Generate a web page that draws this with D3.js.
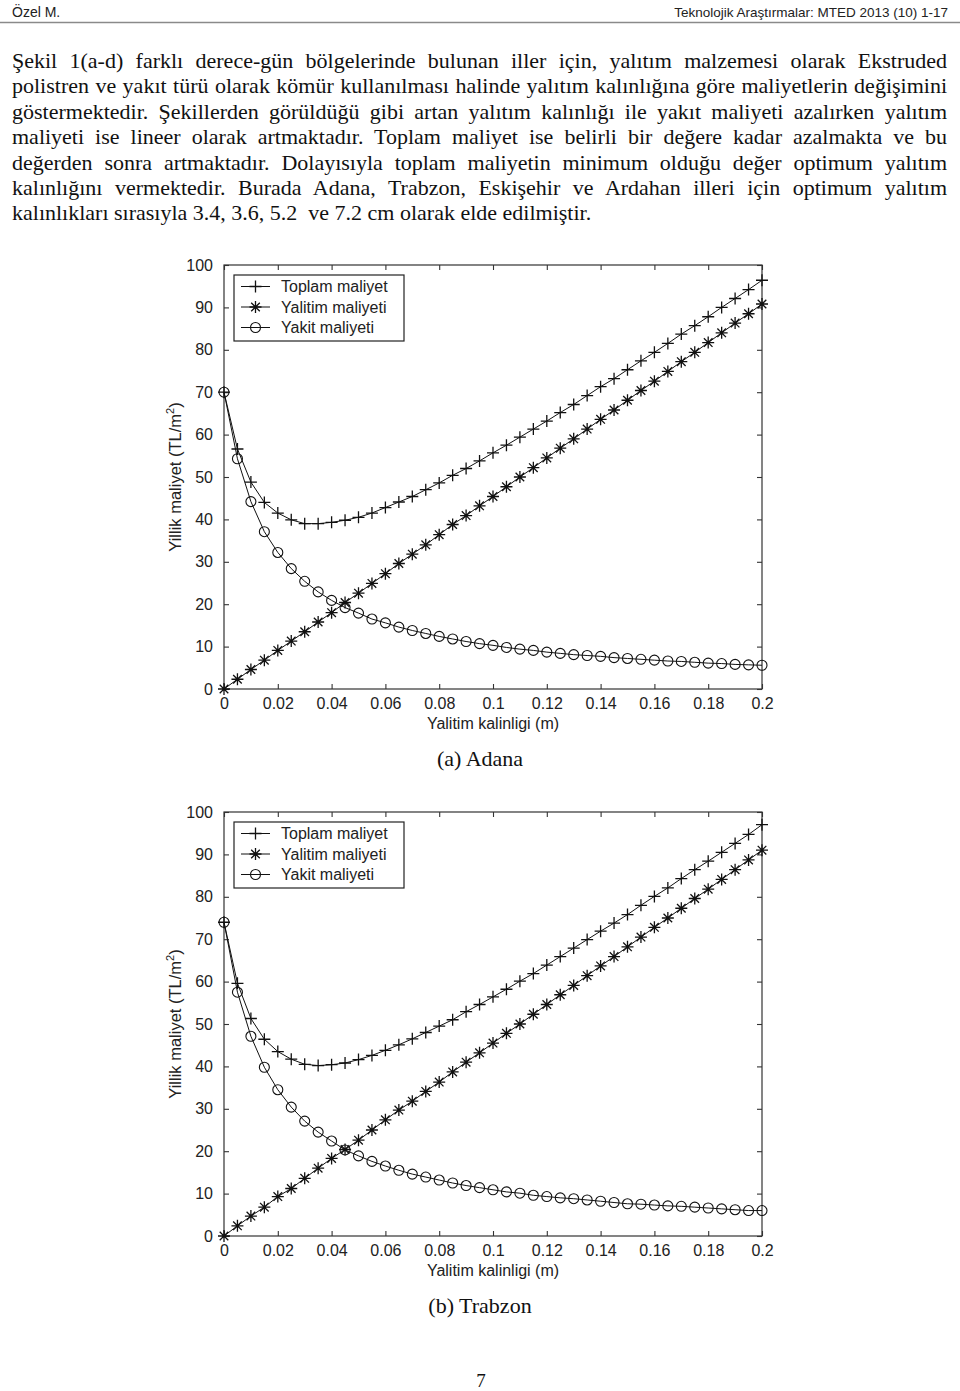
<!DOCTYPE html>
<html><head><meta charset="utf-8">
<script src="https://cdn.jsdelivr.net/npm/d3@7/dist/d3.min.js"></script>
<style>
body{margin:0;background:#fff}
svg{display:block}
</style>
</head><body>
<svg id="page" width="960" height="1391"></svg>
<script>
// ---------------- DATA ----------------
const thickness = [0,0.005,0.01,0.015,0.02,0.025,0.03,0.035,0.04,0.045,0.05,0.055,0.06,0.065,0.07,0.075,0.08,0.085,0.09,0.095,0.1,
  0.105,0.11,0.115,0.12,0.125,0.13,0.135,0.14,0.145,0.15,0.155,0.16,0.165,0.17,0.175,0.18,0.185,0.19,0.195,0.2];

const adanaToplam = [70.0,56.6,48.8,44.0,41.5,39.9,39.0,39.0,39.3,39.8,40.5,41.5,42.8,44.1,45.4,47.0,48.6,50.4,52.0,53.8,55.7,
  57.5,59.4,61.3,63.2,65.2,67.1,69.2,71.3,73.2,75.3,77.4,79.4,81.5,83.7,85.7,87.8,90.0,92.1,94.2,96.4];
const adanaYalitim = [0,2.3,4.6,6.8,9.1,11.3,13.5,15.8,18.0,20.4,22.6,24.9,27.2,29.6,31.8,34.0,36.4,38.8,40.9,43.2,45.4,
  47.7,50.0,52.2,54.5,56.8,59.0,61.3,63.6,65.8,68.1,70.4,72.6,74.9,77.2,79.4,81.7,84.0,86.3,88.5,90.8];
const adanaYakit = [70.0,54.3,44.2,37.1,32.2,28.4,25.4,22.9,20.9,19.2,17.9,16.5,15.6,14.6,13.8,13.1,12.4,11.8,11.2,10.7,10.3,
  9.8,9.4,9.1,8.7,8.4,8.1,7.9,7.7,7.4,7.2,7.0,6.8,6.6,6.5,6.3,6.1,6.0,5.8,5.7,5.6];

const trabzonToplam = [74.0,59.6,51.3,46.4,43.5,41.7,40.5,40.2,40.4,40.8,41.6,42.6,43.8,45.1,46.5,48.0,49.5,51.0,52.9,54.6,56.4,
  58.2,60.1,61.9,63.9,65.9,67.9,69.9,71.9,73.8,75.8,78.0,80.1,82.1,84.3,86.4,88.4,90.5,92.6,94.7,97.0];
const trabzonYalitim = [0,2.4,4.7,6.8,9.3,11.2,13.6,16.0,18.3,20.4,22.6,25.0,27.4,29.7,31.8,34.1,36.3,38.7,41.0,43.2,45.5,
  47.8,50.0,52.3,54.6,56.9,59.1,61.4,63.7,65.9,68.2,70.5,72.8,75.0,77.3,79.6,81.8,84.1,86.4,88.7,91.0];
const trabzonYakit = [74.0,57.5,47.1,39.8,34.5,30.4,27.1,24.5,22.4,20.3,18.9,17.6,16.5,15.5,14.6,13.9,13.2,12.5,11.9,11.4,10.9,
  10.4,10.1,9.6,9.3,9.0,8.8,8.5,8.2,7.9,7.6,7.5,7.3,7.1,7.0,6.8,6.6,6.4,6.2,6.0,6.0];

const seriesNames = ["Toplam maliyet","Yalitim maliyeti","Yakit maliyeti"];
const xTicks = [0,0.02,0.04,0.06,0.08,0.1,0.12,0.14,0.16,0.18,0.2];
const xTickLabels = ["0","0.02","0.04","0.06","0.08","0.1","0.12","0.14","0.16","0.18","0.2"];
const yTicks = [0,10,20,30,40,50,60,70,80,90,100];
const yTickLabels = ["0","10","20","30","40","50","60","70","80","90","100"];
const xTitle = "Yalitim kalinligi (m)";
const captions = ["(a) Adana","(b) Trabzon"];

const headerLeft = "Özel M.";
const headerRight = "Teknolojik Araştırmalar: MTED 2013 (10) 1-17";
const paragraph = [
  "Şekil 1(a-d) farklı derece-gün bölgelerinde bulunan iller için, yalıtım malzemesi olarak Ekstruded",
  "polistren ve yakıt türü olarak kömür kullanılması halinde yalıtım kalınlığına göre maliyetlerin değişimini",
  "göstermektedir. Şekillerden görüldüğü gibi artan yalıtım kalınlığı ile yakıt maliyeti azalırken yalıtım",
  "maliyeti ise lineer olarak artmaktadır. Toplam maliyet ise belirli bir değere kadar azalmakta ve bu",
  "değerden sonra artmaktadır. Dolayısıyla toplam maliyetin minimum olduğu değer optimum yalıtım",
  "kalınlığını vermektedir. Burada Adana, Trabzon, Eskişehir ve Ardahan illeri için optimum yalıtım",
  "kalınlıkları sırasıyla 3.4, 3.6, 5.2  ve 7.2 cm olarak elde edilmiştir."
];
const pageNumber = "7";

// ---------------- DRAW ----------------
const svg = d3.select("#page");
const SERIF = "'Liberation Serif','Times New Roman',serif";
const SANS = "'Liberation Sans',Arial,sans-serif";

// header
svg.append("text").attr("x",12).attr("y",17).attr("font-family",SANS).attr("font-size",14)
  .attr("fill","#222").text(headerLeft);
svg.append("text").attr("x",948).attr("y",17).attr("text-anchor","end").attr("font-family",SANS)
  .attr("font-size",13.5).attr("fill","#222").text(headerRight);
svg.append("line").attr("x1",0).attr("x2",960).attr("y1",22.5).attr("y2",22.5)
  .attr("stroke","#8a8a8a").attr("stroke-width",1.3);

// paragraph (justified)
const pX0 = 12, pX1 = 947, pY0 = 68, pLH = 25.4;
paragraph.forEach((line, i) => {
  const t = svg.append("text").attr("x",pX0).attr("y",pY0 + i*pLH)
    .attr("font-family",SERIF).attr("font-size",22).attr("fill","#111")
    .style("white-space","pre").text(line);
  if (i < paragraph.length - 1) {
    const w = t.node().getComputedTextLength();
    const spaces = (line.match(/ /g) || []).length;
    t.attr("word-spacing", ((pX1 - pX0 - w) / spaces).toFixed(3));
  }
});

// markers
const plusPath = "M-6,0H6M0,-6V6";
const starPath = "M-6,0H6M0,-6V6M-4.3,-4.3L4.3,4.3M-4.3,4.3L4.3,-4.3";
function drawMarker(g, type, x, y) {
  if (type === 2) {
    g.append("circle").attr("cx",x).attr("cy",y).attr("r",5).attr("fill","none")
      .attr("stroke","#111").attr("stroke-width",1.1);
  } else {
    g.append("path").attr("transform",`translate(${x},${y})`)
      .attr("d", type === 0 ? plusPath : starPath)
      .attr("fill","none").attr("stroke","#111").attr("stroke-width",1.3);
  }
}

function drawChart(top, series, caption) {
  const left = 224, right = 762, bottom = top + 424;
  const x = d3.scaleLinear().domain([0,0.2]).range([left,right]);
  const y = d3.scaleLinear().domain([0,100]).range([bottom,top]);
  const g = svg.append("g");
  const axisColor = "#333";

  g.append("rect").attr("x",left).attr("y",top).attr("width",right-left).attr("height",bottom-top)
    .attr("fill","none").attr("stroke",axisColor).attr("stroke-width",1.2);

  const ga = g.append("g").attr("transform",`translate(0,${bottom})`)
    .call(d3.axisBottom(x).tickValues(xTicks).tickSizeInner(-5).tickSizeOuter(0)
      .tickPadding(9).tickFormat((d,i) => xTickLabels[i]));
  const gt = g.append("g").attr("transform",`translate(0,${top})`)
    .call(d3.axisTop(x).tickValues(xTicks).tickSizeInner(-5).tickSizeOuter(0).tickFormat(""));
  const gl = g.append("g").attr("transform",`translate(${left},0)`)
    .call(d3.axisLeft(y).tickValues(yTicks).tickSizeInner(-5).tickSizeOuter(0)
      .tickPadding(11).tickFormat((d,i) => yTickLabels[i]));
  const gr = g.append("g").attr("transform",`translate(${right},0)`)
    .call(d3.axisRight(y).tickValues(yTicks).tickSizeInner(-5).tickSizeOuter(0).tickFormat(""));
  [ga,gt,gl,gr].forEach(a => {
    a.select(".domain").remove();
    a.selectAll(".tick line").attr("stroke",axisColor).attr("stroke-width",1.1);
    a.selectAll(".tick text").attr("font-family",SANS).attr("font-size",16).attr("fill","#222");
  });

  const line = d3.line().x((d,i) => x(thickness[i])).y(d => y(d));
  series.forEach((vals, si) => {
    g.append("path").datum(vals).attr("d",line).attr("fill","none")
      .attr("stroke","#111").attr("stroke-width",1);
    vals.forEach((v,i) => drawMarker(g, si, x(thickness[i]), y(v)));
  });

  const lx = left + 10, ly = top + 10, lw = 170, lh = 66;
  g.append("rect").attr("x",lx).attr("y",ly).attr("width",lw).attr("height",lh)
    .attr("fill","#fff").attr("stroke","#222").attr("stroke-width",1.2);
  seriesNames.forEach((name, si) => {
    const yy = ly + 11.5 + si*20.5;
    g.append("line").attr("x1",lx+7).attr("x2",lx+36).attr("y1",yy).attr("y2",yy)
      .attr("stroke","#111").attr("stroke-width",1);
    drawMarker(g, si, lx+21.5, yy);
    g.append("text").attr("x",lx+47).attr("y",yy+5.5).attr("font-family",SANS)
      .attr("font-size",16).attr("fill","#222").text(name);
  });

  g.append("text").attr("x",(left+right)/2).attr("y",bottom+40).attr("text-anchor","middle")
    .attr("font-family",SANS).attr("font-size",16).attr("fill","#222").text(xTitle);
  const yt = g.append("text").attr("transform",`translate(181,${(top+bottom)/2}) rotate(-90)`)
    .attr("text-anchor","middle").attr("font-family",SANS).attr("font-size",16.5).attr("fill","#222");
  yt.append("tspan").text("Yillik maliyet (TL/m");
  yt.append("tspan").attr("font-size",11).attr("dy",-7).text("2");
  yt.append("tspan").attr("dy",7).text(")");

  svg.append("text").attr("x",480).attr("y",bottom+77).attr("text-anchor","middle")
    .attr("font-family",SERIF).attr("font-size",22).attr("fill","#111").text(caption);
}

drawChart(265, [adanaToplam, adanaYalitim, adanaYakit], captions[0]);
drawChart(812, [trabzonToplam, trabzonYalitim, trabzonYakit], captions[1]);

svg.append("text").attr("x",481).attr("y",1387).attr("text-anchor","middle")
  .attr("font-family",SERIF).attr("font-size",19).attr("fill","#111").text(pageNumber);
</script>
</body></html>
